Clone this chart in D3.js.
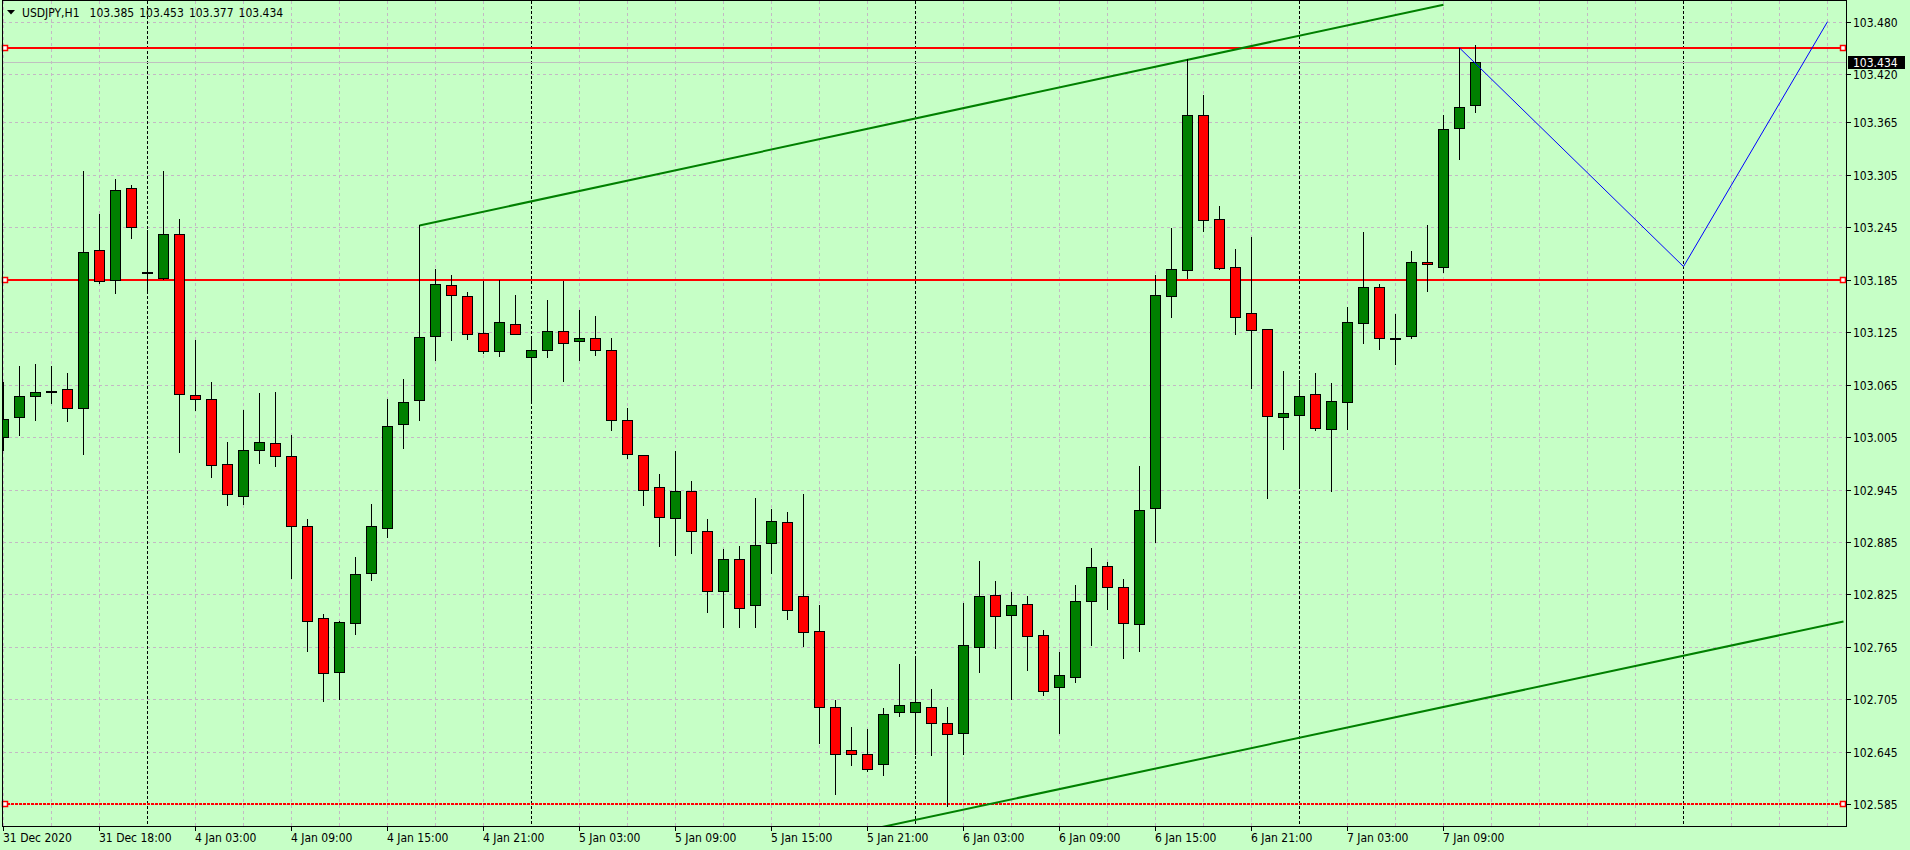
<!DOCTYPE html>
<html>
<head>
<meta charset="utf-8">
<script src="https://cdn.jsdelivr.net/npm/d3@7"></script>
<style>
body{margin:0;background:#c6ffc6;overflow:hidden}
text{font-family:"DejaVu Sans Condensed","DejaVu Sans",sans-serif;font-size:12px;fill:#000}
</style>
</head>
<body>
<svg id="chart" width="1910" height="850"></svg>
<script>
// USDJPY H1, bars from 31 Dec 12:00 to 7 Jan 11:00
var symbol = 'USDJPY', period = 'H1';
var opens  = [103.005,103.028,103.052,103.058,103.060,103.038,103.219,103.185,103.290,103.194,
              103.187,103.237,103.053,103.048,102.974,102.938,102.990,102.998,102.983,102.903,
              102.798,102.736,102.792,102.849,102.901,103.020,103.047,103.121,103.179,103.166,
              103.124,103.103,103.134,103.097,103.105,103.126,103.115,103.118,103.104,103.024,
              102.985,102.948,102.912,102.943,102.897,102.829,102.866,102.813,102.884,102.908,
              102.823,102.783,102.696,102.647,102.642,102.631,102.690,102.691,102.696,102.678,
              102.667,102.765,102.824,102.802,102.814,102.779,102.719,102.731,102.817,102.858,
              102.834,102.791,102.924,103.166,103.196,103.373,103.254,103.199,103.147,103.128,
              103.028,103.030,103.054,103.014,103.045,103.135,103.177,103.118,103.120,103.205,
              103.200,103.358,103.385];
var highs  = [103.068,103.086,103.089,103.086,103.078,103.309,103.260,103.300,103.293,103.242,
              103.309,103.254,103.116,103.068,102.999,103.036,103.055,103.057,103.007,102.911,
              102.803,102.795,102.868,102.928,103.049,103.071,103.247,103.197,103.190,103.171,
              103.183,103.185,103.167,103.121,103.162,103.183,103.150,103.143,103.118,103.038,
              102.985,102.963,102.989,102.955,102.911,102.877,102.880,102.935,102.923,102.919,
              102.940,102.813,102.704,102.673,102.671,102.695,102.745,102.754,102.717,102.696,
              102.815,102.863,102.840,102.828,102.823,102.784,102.759,102.836,102.878,102.862,
              102.843,102.972,103.190,103.244,103.437,103.396,103.269,103.220,103.234,103.129,
              103.081,103.070,103.078,103.067,103.154,103.240,103.180,103.146,103.218,103.248,
              103.373,103.450,103.453];
var lows   = [102.990,103.007,103.024,103.044,103.023,102.986,103.181,103.170,103.233,103.170,
              103.186,102.988,103.036,102.959,102.927,102.929,102.975,102.972,102.844,102.760,
              102.703,102.705,102.780,102.841,102.891,102.992,103.025,103.093,103.116,103.117,
              103.101,103.098,103.123,103.047,103.096,103.069,103.093,103.099,103.013,102.981,
              102.927,102.880,102.870,102.872,102.805,102.788,102.788,102.788,102.850,102.797,
              102.766,102.655,102.597,102.630,102.623,102.618,102.686,102.643,102.641,102.583,
              102.642,102.736,102.764,102.705,102.739,102.710,102.667,102.725,102.767,102.808,
              102.752,102.760,102.885,103.142,103.187,103.241,103.197,103.123,103.061,102.935,
              102.991,102.949,103.013,102.943,103.014,103.112,103.106,103.088,103.118,103.172,
              103.194,103.323,103.377];
var closes = [103.026,103.052,103.057,103.058,103.038,103.217,103.183,103.287,103.245,103.194,
              103.237,103.054,103.048,102.973,102.940,102.990,102.999,102.983,102.903,102.795,
              102.735,102.793,102.848,102.903,103.018,103.045,103.119,103.180,103.167,103.123,
              103.103,103.137,103.123,103.105,103.126,103.113,103.118,103.104,103.025,102.986,
              102.944,102.913,102.943,102.898,102.829,102.865,102.810,102.882,102.909,102.807,
              102.782,102.696,102.643,102.643,102.625,102.688,102.699,102.702,102.678,102.665,
              102.767,102.823,102.800,102.813,102.778,102.715,102.733,102.817,102.856,102.833,
              102.792,102.921,103.167,103.197,103.373,103.253,103.198,103.142,103.127,103.029,
              103.033,103.052,103.015,103.046,103.136,103.177,103.118,103.118,103.205,103.203,
              103.357,103.383,103.434];

var timeLabels = ['31 Dec 2020','31 Dec 18:00','4 Jan 03:00','4 Jan 09:00','4 Jan 15:00','4 Jan 21:00',
                  '5 Jan 03:00','5 Jan 09:00','5 Jan 15:00','5 Jan 21:00','6 Jan 03:00','6 Jan 09:00',
                  '6 Jan 15:00','6 Jan 21:00','7 Jan 03:00','7 Jan 09:00'];
var priceTicks = [103.480,103.420,103.365,103.305,103.245,103.185,103.125,103.065,
                  103.005,102.945,102.885,102.825,102.765,102.705,102.645,102.585];
var dayStarts = [9,33,57,81,105];           // bar index of each new day
var levels = [103.450,103.185,102.585];      // horizontal lines
var upperLine = [[26,103.247],[90,103.4995]];
var lowerLine = [[26,102.446],[115,102.794]];
var zigzag = [[91,103.450],[105,103.200],[114,103.480]];

var W = 1910, H = 850;
// plot frame (note: "top" is reserved on window, so prefix these)
var pL = 2.5, pR = 1846.5, pT = 0.5, pB = 826.5;

var x = d3.scaleLinear().domain([0,115]).range([3.5, 3.5+16*115]);
var y = d3.scaleLinear().domain([102.585,103.480]).range([804.3,21.7]);
function py(v){ return Math.round(y(v))+0.5 }

var svg = d3.select('#chart');
svg.append('rect').attr('width',W).attr('height',H).attr('fill','#c6ffc6');

svg.append('defs').append('clipPath').attr('id','plotClip')
	.append('rect')
		.attr('x',pL+0.5).attr('y',pT+0.5)
		.attr('width',pR-pL-1).attr('height',pB-pT-1);

var plot = svg.append('g').attr('clip-path','url(#plotClip)');

// grid
plot.selectAll('line.hgrid').data(priceTicks).enter()
	.append('line')
		.attr('class','hgrid')
		.attr('x1',pL).attr('x2',pR)
		.attr('y1',function(d){return py(d)}).attr('y2',function(d){return py(d)})
		.attr('stroke','#c4b8c4').attr('stroke-dasharray','3,3')
		.attr('shape-rendering','crispEdges');

plot.selectAll('line.vgrid').data(d3.range(0,115,3).filter(function(d){return dayStarts.indexOf(d)<0})).enter()
	.append('line')
		.attr('class','vgrid')
		.attr('x1',function(d){return x(d)}).attr('x2',function(d){return x(d)})
		.attr('y1',pT).attr('y2',pB)
		.attr('stroke','#c4b8c4').attr('stroke-dasharray','3,3')
		.attr('shape-rendering','crispEdges');

plot.selectAll('line.sep').data(dayStarts).enter()
	.append('line')
		.attr('class','sep')
		.attr('x1',function(d){return x(d)}).attr('x2',function(d){return x(d)})
		.attr('y1',pT).attr('y2',pB)
		.attr('stroke','#000').attr('stroke-dasharray','3,2')
		.attr('shape-rendering','crispEdges');

// bid line
var last = opens.length-1;
plot.append('line')
	.attr('x1',pL).attr('x2',pR)
	.attr('y1',py(closes[last])).attr('y2',py(closes[last]))
	.attr('stroke','#c0c0c0').attr('shape-rendering','crispEdges');

// horizontal levels
plot.selectAll('line.level').data(levels).enter()
	.append('line')
		.attr('class','level')
		.attr('x1',pL).attr('x2',pR)
		.attr('y1',function(d){return Math.round(y(d))}).attr('y2',function(d){return Math.round(y(d))})
		.attr('stroke','#ff0000').attr('stroke-width',2)
		.attr('stroke-dasharray',function(d,i){return i==2 ? '3,1' : null})
		.attr('shape-rendering','crispEdges');

// trend lines
var tl = d3.line().x(function(d){return x(d[0])}).y(function(d){return y(d[1])});
plot.selectAll('path.trend').data([upperLine, lowerLine]).enter()
	.append('path')
		.attr('class','trend')
		.attr('d',tl)
		.attr('fill','none').attr('stroke','#008000').attr('stroke-width',2);

// candles
var idx = d3.range(opens.length);
plot.selectAll('line.wick').data(idx).enter()
	.append('line')
		.attr('class','wick')
		.attr('x1',function(i){return x(i)}).attr('x2',function(i){return x(i)})
		.attr('y1',function(i){return py(highs[i])-0.5}).attr('y2',function(i){return py(lows[i])+0.5})
		.attr('stroke','#000').attr('shape-rendering','crispEdges');

plot.selectAll('rect.body').data(idx).enter()
	.append('rect')
		.attr('class','body')
		.attr('x',function(i){return x(i)-5})
		.attr('width',10)
		.attr('y',function(i){return py(Math.max(opens[i],closes[i]))})
		.attr('height',function(i){return Math.max(1, py(Math.min(opens[i],closes[i])) - py(Math.max(opens[i],closes[i])))})
		.attr('fill',function(i){
			if (opens[i]==closes[i]) return '#000';
			return closes[i]>opens[i] ? '#008000' : '#ff0000'})
		.attr('stroke','#000').attr('shape-rendering','crispEdges');

// zigzag
plot.append('path')
	.datum(zigzag)
	.attr('d',tl)
	.attr('fill','none').attr('stroke','#0000ff').attr('stroke-width',1);

// level handles
levels.forEach(function(v){
	[5, 1843].forEach(function(cx){
		svg.append('rect')
			.attr('x',cx-2.5).attr('y',Math.round(y(v))-2.5)
			.attr('width',5).attr('height',5)
			.attr('fill','#fff').attr('stroke','#ff0000').attr('stroke-width',1.5);
	});
});

// frame
svg.append('rect')
	.attr('x',pL).attr('y',pT)
	.attr('width',pR-pL).attr('height',pB-pT)
	.attr('fill','none').attr('stroke','#000').attr('shape-rendering','crispEdges');

// price axis
var ya = svg.append('g');
ya.selectAll('line').data(priceTicks).enter()
	.append('line')
		.attr('x1',pR).attr('x2',pR+4)
		.attr('y1',function(d){return py(d)}).attr('y2',function(d){return py(d)})
		.attr('stroke','#000').attr('shape-rendering','crispEdges');
ya.selectAll('text').data(priceTicks).enter()
	.append('text')
		.attr('x',1853).attr('y',function(d){return py(d)+4})
		.text(function(d){return d.toFixed(3)});

ya.append('rect')
	.attr('x',1848).attr('y',py(closes[last])-6.5)
	.attr('width',57).attr('height',13).attr('fill','#000');
ya.append('text')
	.attr('x',1853).attr('y',py(closes[last])+4)
	.style('fill','#fff')
	.text(closes[last].toFixed(3));

// time axis
var xa = svg.append('g');
xa.selectAll('line').data(timeLabels).enter()
	.append('line')
		.attr('x1',function(d,i){return x(i*6)}).attr('x2',function(d,i){return x(i*6)})
		.attr('y1',pB).attr('y2',pB+4)
		.attr('stroke','#000').attr('shape-rendering','crispEdges');
xa.selectAll('text').data(timeLabels).enter()
	.append('text')
		.attr('x',function(d,i){return x(i*6)-0.5})
		.attr('y',842)
		.text(function(d){return d});

// title
svg.append('path').attr('d','M7,10L15,10L11,14.5Z').attr('fill','#000');
svg.append('text')
	.attr('x',22).attr('y',17)
	.attr('xml:space','preserve')
	.style('word-spacing','1.6px')
	.text(symbol+','+period+'  '+[opens[last],highs[last],lows[last],closes[last]].map(function(v){return v.toFixed(3)}).join(' '));
</script>
</body>
</html>
